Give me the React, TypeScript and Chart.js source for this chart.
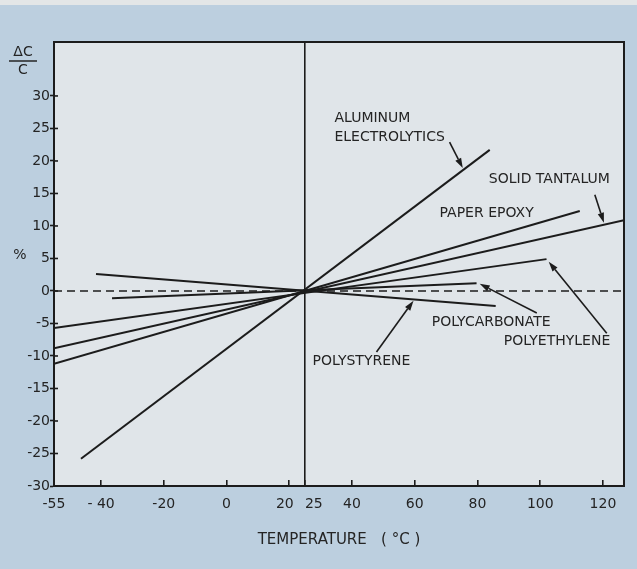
import React, { useEffect, useRef } from 'react';
import { Chart, registerables } from 'chart.js';

Chart.register(...registerables);

// ---- Data ----
const xTickValues = [-55, -40, -20, 0, 20, 25, 40, 60, 80, 100, 120];
const xTickLabels = ['-55', '- 40', '-20', '0', '20  ', '    25', '40', '60', '80', '100', '120'];
const yTickValues = [-30, -25, -20, -15, -10, -5, 0, 5, 10, 15, 20, 25, 30];

const aluminumElectrolytics = [{ x: -46.4, y: -25.8 }, { x: 83.9, y: 21.7 }];
const solidTantalum = [{ x: -55, y: -8.8 }, { x: 126.7, y: 10.9 }];
const paperEpoxy = [{ x: -55, y: -11.2 }, { x: 112.6, y: 12.3 }];
const polyethylene = [{ x: -55, y: -5.7 }, { x: 102, y: 4.9 }];
const polycarbonate = [{ x: -36.5, y: -1.1 }, { x: 79.7, y: 1.2 }];
const polystyrene = [{ x: -41.6, y: 2.6 }, { x: 85.8, y: -2.3 }];
const zeroReference = [{ x: -55, y: 0 }, { x: 126.7, y: 0 }];

const labelTexts = [
  ['ALUMINUM', 'ELECTROLYTICS'],
  ['SOLID TANTALUM'],
  ['PAPER EPOXY'],
  ['POLYCARBONATE'],
  ['POLYETHYLENE'],
  ['POLYSTYRENE'],
];
const labelAnchors = [
  { x: 34.4, y: 26.6 },
  { x: 83.6, y: 17.1 },
  { x: 67.9, y: 12.0 },
  { x: 65.4, y: -4.9 },
  { x: 88.4, y: -7.8 },
  { x: 27.4, y: -10.9 },
];
const arrowFrom = [
  { x: 71.1, y: 22.9 },
  { x: 117.4, y: 14.8 },
  { x: 121.2, y: -6.5 },
  { x: 98.9, y: -3.4 },
  { x: 47.8, y: -9.4 },
];
const arrowTo = [
  { x: 75.3, y: 18.9 },
  { x: 120.3, y: 10.5 },
  { x: 102.7, y: 4.5 },
  { x: 80.7, y: 1.1 },
  { x: 59.6, y: -1.5 },
];

const INK = '#1c1c1c';
const TEXT = '#242424';
const FONT = '"DejaVu Sans", sans-serif';

const decorPlugin = {
  id: 'decor',
  beforeDraw(chart: any) {
    const { ctx, width, height, chartArea } = chart;
    ctx.save();
    ctx.fillStyle = '#bccfdf';
    ctx.fillRect(0, 0, width, height);
    ctx.fillStyle = '#e3e6e7';
    ctx.fillRect(0, 0, width, 5);
    ctx.fillStyle = '#e0e5e9';
    ctx.fillRect(chartArea.left, chartArea.top, chartArea.right - chartArea.left, chartArea.bottom - chartArea.top);
    ctx.restore();
  },
  afterDraw(chart: any) {
    const { ctx, chartArea, scales } = chart;
    const xs = scales.x;
    const ys = scales.y;
    ctx.save();
    // frame
    ctx.strokeStyle = INK;
    ctx.lineWidth = 2;
    ctx.strokeRect(chartArea.left, chartArea.top, chartArea.right - chartArea.left, chartArea.bottom - chartArea.top);

    // inner half of the y tick marks
    ctx.lineWidth = 1.6;
    ys.ticks.forEach((t: any) => {
      const py = ys.getPixelForValue(t.value);
      ctx.beginPath();
      ctx.moveTo(chartArea.left, py);
      ctx.lineTo(chartArea.left + 4, py);
      ctx.stroke();
    });

    // labels
    ctx.fillStyle = TEXT;
    ctx.font = '14px ' + FONT;
    ctx.textAlign = 'left';
    ctx.textBaseline = 'middle';
    labelTexts.forEach((lines, i) => {
      const px = xs.getPixelForValue(labelAnchors[i].x);
      const py = ys.getPixelForValue(labelAnchors[i].y);
      lines.forEach((t, j) => ctx.fillText(t, px, py + j * 19));
    });

    // arrows
    ctx.strokeStyle = INK;
    ctx.fillStyle = INK;
    ctx.lineWidth = 1.6;
    arrowFrom.forEach((f, i) => {
      const x1 = xs.getPixelForValue(f.x);
      const y1 = ys.getPixelForValue(f.y);
      const x2 = xs.getPixelForValue(arrowTo[i].x);
      const y2 = ys.getPixelForValue(arrowTo[i].y);
      const a = Math.atan2(y2 - y1, x2 - x1);
      const L = 10;
      const W = 3.2;
      const bx = x2 - L * Math.cos(a);
      const by = y2 - L * Math.sin(a);
      ctx.beginPath();
      ctx.moveTo(x1, y1);
      ctx.lineTo(bx, by);
      ctx.stroke();
      ctx.beginPath();
      ctx.moveTo(x2, y2);
      ctx.lineTo(bx + W * Math.sin(a), by - W * Math.cos(a));
      ctx.lineTo(bx - W * Math.sin(a), by + W * Math.cos(a));
      ctx.closePath();
      ctx.fill();
    });

    // y axis title: ΔC / C and %
    const cx = chartArea.left - 31;
    ctx.fillStyle = TEXT;
    ctx.textAlign = 'center';
    ctx.font = '14px ' + FONT;
    ctx.fillText('\u0394C', cx, chartArea.top + 10);
    ctx.strokeStyle = TEXT;
    ctx.lineWidth = 1.5;
    ctx.beginPath();
    ctx.moveTo(cx - 14, chartArea.top + 19);
    ctx.lineTo(cx + 14, chartArea.top + 19);
    ctx.stroke();
    ctx.fillText('C', cx, chartArea.top + 28);
    ctx.fillText('%', chartArea.left - 34, ys.getPixelForValue(5) - 3);
    ctx.restore();
  },
};

function lineDs(label: string, data: any[], extra: any = {}) {
  return {
    label,
    data,
    borderColor: INK,
    borderWidth: 2,
    pointRadius: 0,
    fill: false,
    tension: 0,
    ...extra,
  };
}

export default function App() {
  const ref = useRef<HTMLCanvasElement | null>(null);
  useEffect(() => {
    if (!ref.current) return;
    const chart = new Chart(ref.current, {
      type: 'line',
      data: {
        datasets: [
          lineDs('Aluminum electrolytics', aluminumElectrolytics),
          lineDs('Solid tantalum', solidTantalum),
          lineDs('Paper epoxy', paperEpoxy),
          lineDs('Polyethylene', polyethylene),
          lineDs('Polycarbonate', polycarbonate),
          lineDs('Polystyrene', polystyrene),
          lineDs('Zero', zeroReference, { borderDash: [8, 5], borderWidth: 1.6 }),
        ],
      },
      options: {
        responsive: false,
        animation: false,
        events: [],
        layout: { padding: { left: 0, top: 42, right: 13, bottom: 0 } },
        plugins: {
          legend: { display: false },
          tooltip: { enabled: false },
        },
        scales: {
          x: {
            type: 'linear',
            min: -55,
            max: 126.7,
            afterBuildTicks: (s: any) => {
              s.ticks = xTickValues.map((v) => ({ value: v }));
            },
            afterFit: (s: any) => {
              s.height = 83;
            },
            ticks: {
              autoSkip: false,
              maxRotation: 0,
              padding: 16,
              color: TEXT,
              font: { family: FONT, size: 14 },
              callback: (v: any, i: number) => xTickLabels[i],
            },
            grid: {
              drawOnChartArea: true,
              drawTicks: true,
              tickLength: -6,
              color: (c: any) => (c.tick && c.tick.value === 25 ? INK : 'rgba(0,0,0,0)'),
              lineWidth: 1.6,
              tickColor: INK,
              tickWidth: 1.6,
            },
            border: { display: true, color: INK, width: 2 },
            title: {
              display: true,
              text: 'TEMPERATURE   ( \u00B0C )',
              color: TEXT,
              font: { family: FONT, size: 15 },
              padding: { top: 0, bottom: 20 },
            },
          },
          y: {
            type: 'linear',
            min: -30,
            max: 38.3,
            afterBuildTicks: (s: any) => {
              s.ticks = yTickValues.map((v) => ({ value: v }));
            },
            afterFit: (s: any) => {
              s.width = 54;
            },
            ticks: {
              padding: 0,
              color: TEXT,
              font: { family: FONT, size: 14 },
              callback: (v: any) => String(v),
            },
            grid: {
              drawOnChartArea: false,
              drawTicks: true,
              tickLength: 4,
              tickColor: INK,
              tickWidth: 1.6,
            },
            border: { display: true, color: INK, width: 2 },
          },
        },
      },
      plugins: [decorPlugin],
    } as any);
    return () => chart.destroy();
  }, []);
  return (
    <div style={{ position: 'fixed', left: 0, top: 0, width: 637, height: 569 }}>
      <canvas ref={ref} width={637} height={569} style={{ display: 'block' }} />
    </div>
  );
}
